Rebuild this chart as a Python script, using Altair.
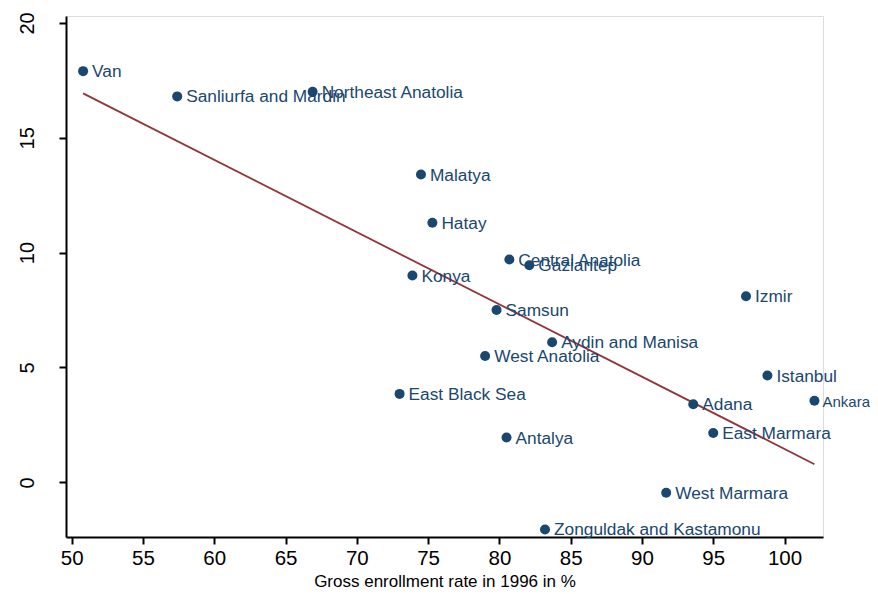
import altair as alt
import pandas as pd

regions = ["Van", "Sanliurfa and Mardin", "Northeast Anatolia", "Malatya", "Hatay",
           "Konya", "Central Anatolia", "Gaziantep", "Izmir", "Samsun",
           "Aydin and Manisa", "West Anatolia", "Istanbul", "East Black Sea", "Adana",
           "Ankara", "East Marmara", "Antalya", "West Marmara", "Zonguldak and Kastamonu"]
enroll = [50.8, 57.4, 66.9, 74.5, 75.3, 73.9, 80.7, 82.1, 97.3, 79.8,
          83.7, 79.0, 98.8, 73.0, 93.6, 102.1, 95.0, 80.5, 91.7, 83.2]
growth = [17.9, 16.8, 17.0, 13.4, 11.3, 9.0, 9.7, 9.45, 8.1, 7.5,
          6.1, 5.5, 4.65, 3.85, 3.4, 3.55, 2.15, 1.95, -0.45, -2.05]

df = pd.DataFrame({"region": regions, "enroll": enroll, "growth": growth})

NAVY = "#1a476f"
MAROON = "#90353b"
FONT = "Liberation Sans"

xs = alt.Scale(domain=[49.6, 102.7], nice=False, zero=False)
ys = alt.Scale(domain=[-2.38, 20.3], nice=False, zero=False)

xax = alt.Axis(values=list(range(50, 101, 5)), title="Gross enrollment rate in 1996 in %",
               grid=False, domainColor="black", domainWidth=2, tickColor="black",
               tickWidth=2, tickSize=7, labelFontSize=20.5, labelFont=FONT, labelColor="black",
               titleFontSize=17, titleFont=FONT, titleFontWeight="normal", titleColor="black",
               labelPadding=4, titlePadding=5)
yax = alt.Axis(values=[0, 5, 10, 15, 20], title=None, grid=False, domainColor="black",
               domainWidth=2, tickColor="black", tickWidth=2, tickSize=7,
               labelFontSize=20, labelFont=FONT, labelColor="black", labelAngle=270,
               labelAlign="center", labelBaseline="bottom", labelPadding=22)

base = alt.Chart(df)

points = base.mark_circle(size=100, opacity=1, color=NAVY).encode(
    x=alt.X("enroll:Q", scale=xs, axis=xax),
    y=alt.Y("growth:Q", scale=ys, axis=yax),
)

enc = dict(x=alt.X("enroll:Q", scale=xs), y=alt.Y("growth:Q", scale=ys), text="region:N")

labels = base.transform_filter(alt.datum.enroll <= 101).mark_text(
    align="left", baseline="middle", dx=9, dy=1, fontSize=17.3, font=FONT, color=NAVY
).encode(**enc)

# the label at the very right edge of the page is set a little smaller so it fits
edge_labels = base.transform_filter(alt.datum.enroll > 101).mark_text(
    align="left", baseline="middle", dx=8, dy=1, fontSize=15, font=FONT, color=NAVY
).encode(**enc)

fit = base.transform_regression("enroll", "growth").mark_line(
    color=MAROON, strokeWidth=1.8).encode(
    x=alt.X("enroll:Q", scale=xs),
    y=alt.Y("growth:Q", scale=ys),
)

chart = alt.layer(fit, points, labels, edge_labels).properties(
    width=757, height=521,
    autosize=alt.AutoSizeParams(type="none"),
    padding={"left": 58, "top": 8, "right": 47, "bottom": 56},
).configure_view(stroke=None).configure(background="white")

chart.save("out.html", embed_options={"renderer": "svg", "actions": False})
